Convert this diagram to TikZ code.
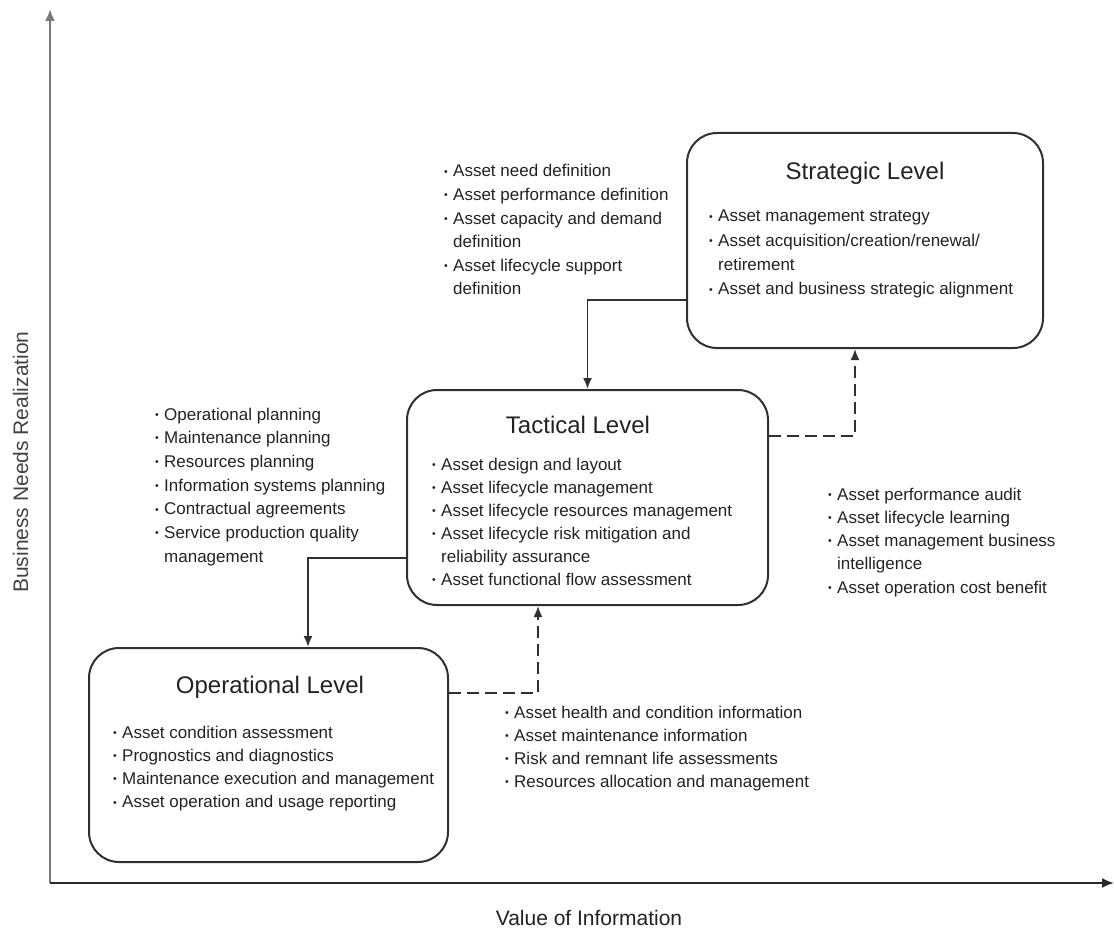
\documentclass[tikz,border=0pt]{standalone}
\usepackage{fontspec}
\setmainfont{Liberation Sans}
\usetikzlibrary{arrows.meta}
% small bullet and hanging indent for the item lists
\newcommand\bul{\makebox[9pt][l]{\raisebox{1.8pt}{\fontsize{10.5}{10.5}\selectfont\textbullet}}}
\newcommand\ind{\hspace*{9pt}}
\definecolor{ink}{HTML}{222222}
\definecolor{edge}{HTML}{303030}
\definecolor{yaxis}{HTML}{7A7A7A}
\definecolor{xaxis}{HTML}{2A2A2A}
\begin{document}
\begin{tikzpicture}[x=1pt,y=-1pt,
  every node/.style={text=ink, inner sep=0pt},
  levelbox/.style={draw=edge, line width=2pt, rounded corners=30pt},
  leveltitle/.style={anchor=base, font=\fontsize{24}{28}\selectfont},
  items/.style={anchor=base west, font=\fontsize{17}{#1}\selectfont},
  flow/.style={draw=edge, line width=1.8pt, -{Latex[length=11pt,width=9pt]}},
  feedback/.style={flow, dash pattern=on 12pt off 6pt},
  axislabel/.style={anchor=base, font=\fontsize{21}{24}\selectfont}]
\useasboundingbox (0,0) rectangle (1114,928);

% axes
\coordinate (origin) at (50,883);
\coordinate (ytop) at (50,9);
\coordinate (xend) at (1114,883);
\draw[yaxis, line width=2.2pt, -{Latex[length=12pt,width=10pt]}] (origin) -- (ytop);
\draw[xaxis, line width=2.2pt, -{Latex[length=12pt,width=10pt]}] (origin) -- (xend);
\node[axislabel, rotate=90, text=ink!85] (ylab) at (28,462) {Business Needs Realization};
\node[axislabel] (xlab) at (589,925) {Value of Information};

% level boxes
\node[levelbox, minimum width=356pt, minimum height=215pt] (strat) at (865,240.5) {};
\node[levelbox, minimum width=361pt, minimum height=215pt] (tact) at (587.5,497.5) {};
\node[levelbox, minimum width=359pt, minimum height=214pt] (oper) at (268.5,755) {};

% titles
\node[leveltitle] (strattitle) at (865,180) {Strategic Level};
\node[leveltitle] (tacttitle) at (578,433) {Tactical Level};
\node[leveltitle] (opertitle) at (270,693) {Operational Level};

% contents of the boxes
\node[items=24.3] (stratitems) at (709,222) {\begin{tabular}[t]{@{}l@{}}
\bul Asset management strategy\\
\bul Asset acquisition/creation/renewal/\\
\ind retirement\\
\bul Asset and business strategic alignment
\end{tabular}};
\node[items=23] (tactitems) at (432,470) {\begin{tabular}[t]{@{}l@{}}
\bul Asset design and layout\\
\bul Asset lifecycle management\\
\bul Asset lifecycle resources management\\
\bul Asset lifecycle risk mitigation and\\
\ind reliability assurance\\
\bul Asset functional flow assessment
\end{tabular}};
\node[items=23.3] (operitems) at (113,738) {\begin{tabular}[t]{@{}l@{}}
\bul Asset condition assessment\\
\bul Prognostics and diagnostics\\
\bul Maintenance execution and management\\
\bul Asset operation and usage reporting
\end{tabular}};

% lists beside the connectors
\node[items=23.6] (downtop) at (444,177) {\begin{tabular}[t]{@{}l@{}}
\bul Asset need definition\\
\bul Asset performance definition\\
\bul Asset capacity and demand\\
\ind definition\\
\bul Asset lifecycle support\\
\ind definition
\end{tabular}};
\node[items=23.7] (downleft) at (155,420) {\begin{tabular}[t]{@{}l@{}}
\bul Operational planning\\
\bul Maintenance planning\\
\bul Resources planning\\
\bul Information systems planning\\
\bul Contractual agreements\\
\bul Service production quality\\
\ind management
\end{tabular}};
\node[items=23] (upbottom) at (505,718) {\begin{tabular}[t]{@{}l@{}}
\bul Asset health and condition information\\
\bul Asset maintenance information\\
\bul Risk and remnant life assessments\\
\bul Resources allocation and management
\end{tabular}};
\node[items=23.25] (upright) at (828,500) {\begin{tabular}[t]{@{}l@{}}
\bul Asset performance audit\\
\bul Asset lifecycle learning\\
\bul Asset management business\\
\ind intelligence\\
\bul Asset operation cost benefit
\end{tabular}};

% connectors between levels
\draw[flow] (strat.west |- 0,300) -| (tact.north);
\draw[flow] (tact.west |- 0,558) -| (oper.north -| 308,0);
\draw[feedback] (oper.east |- 0,693) -| (tact.south -| 538,0);
\draw[feedback] (tact.east |- 0,436) -| (strat.south -| 855,0);
\end{tikzpicture}
\end{document}
